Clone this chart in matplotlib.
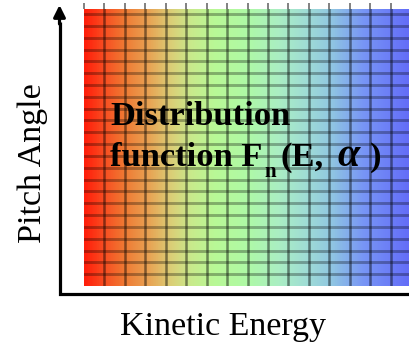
import numpy as np
import matplotlib
matplotlib.use("Agg")
import matplotlib.pyplot as plt
from matplotlib.colors import LinearSegmentedColormap

# colour ramp of the distribution map, low energy (left) to high energy (right)
ramp_pos = [0.0, 0.05, 0.12, 0.20, 0.27, 0.33, 0.40, 0.50, 0.60, 0.68, 0.76, 0.86, 1.0]
ramp_rgb = [(255, 30, 10), (250, 70, 30), (240, 120, 50), (232, 165, 85),
            (218, 208, 120), (200, 235, 140), (185, 248, 150), (175, 250, 165),
            (170, 238, 195), (160, 222, 212), (145, 200, 225), (120, 150, 245),
            (100, 110, 248)]

n_energy_cols = 15.9   # columns visible across the panel
n_angle_rows = 23.4

x_label = "Kinetic Energy"
y_label = "Pitch Angle"

W, H = 409, 344
fig = plt.figure(figsize=(W / 100, H / 100), dpi=100)

# panel placed in pixel units
left, top, right, bottom = 84, 9.3, 409, 286
ax = fig.add_axes([left / W, 1 - bottom / H, (right - left) / W, (bottom - top) / H])

cmap = LinearSegmentedColormap.from_list(
    "fn", list(zip(ramp_pos, [tuple(c / 255 for c in rgb) for rgb in ramp_rgb])))
grad = np.linspace(0, 1, 400)[None, :]
ax.imshow(grad, cmap=cmap, aspect="auto", extent=[0, n_energy_cols, 0, n_angle_rows],
          interpolation="bilinear")
ax.set_xlim(0, n_energy_cols)
ax.set_ylim(0, n_angle_rows)

# energy / angle bins
for xv in range(1, int(n_energy_cols) + 1):
    ax.axvline(xv, color="black", alpha=0.45, lw=1.8)
for yv in range(1, int(n_angle_rows) + 1):
    ax.axhline(yv, color="black", alpha=0.3, lw=2.1)

ax.set_xticks(range(0, int(n_energy_cols) + 1))
ax.set_yticks([])
ax.tick_params(axis="x", top=True, bottom=False, labeltop=False, labelbottom=False,
               direction="out", length=4, width=1.3, color="#777777")
for s in ax.spines.values():
    s.set_visible(False)

# overlay in figure pixels for axes arrows and text
ov = fig.add_axes([0, 0, 1, 1], zorder=3)
ov.set_xlim(0, W)
ov.set_ylim(H, 0)
ov.axis("off")
ov.patch.set_visible(False)

ov.plot([59.5, 59.5, W + 5], [22, 293.5, 293.5], color="black", lw=2.3,
        solid_joinstyle="miter", solid_capstyle="butt")
ov.annotate("", xy=(59.5, 5), xytext=(59.5, 24),
            arrowprops=dict(arrowstyle="-|>,head_length=0.7,head_width=0.35",
                            color="black", lw=2.3, shrinkA=0, shrinkB=0))

serif = "Liberation Serif"
ov.text(223, 335, x_label, family=serif, fontsize=24.5, ha="center", va="baseline")
ov.text(33, 163, y_label, family=serif, fontsize=24.5, ha="center", va="center",
        rotation=90)

tkw = dict(family=serif, fontsize=24.8, weight="bold", va="baseline")
ov.text(110, 125, "Distribution", **tkw)
ov.text(110, 166, "function F", **tkw)
ov.text(264, 177, "n", family=serif, fontsize=15, weight="bold", va="baseline")
ov.text(281, 166, "(E,", **tkw)
ov.text(337, 166, "\u03b1", family=serif, fontsize=29, weight="bold", style="italic",
        va="baseline")
ov.text(370, 166, ")", **tkw)

fig.savefig("out.png", dpi=100)
